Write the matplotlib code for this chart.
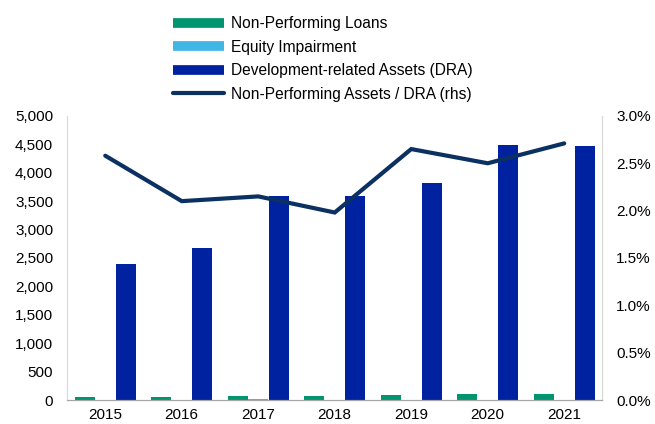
import numpy as np
import matplotlib
matplotlib.use("Agg")
import matplotlib.pyplot as plt
from matplotlib.lines import Line2D
from matplotlib.ticker import FuncFormatter

plt.rcParams['font.family'] = ['Liberation Sans', 'DejaVu Sans']

# Daten
jahre = ['2015', '2016', '2017', '2018', '2019', '2020', '2021']
npl = [60, 50, 70, 70, 95, 105, 105]            # Non-Performing Loans
equity = [0, 0, 10, 0, 0, 0, 0]                 # Equity Impairment
dra = [2390, 2680, 3590, 3590, 3820, 4490, 4470] # Development-related Assets
npa_quote = [2.58, 2.10, 2.15, 1.98, 2.65, 2.50, 2.71]  # NPA / DRA in %

# Farben
farbe_npl = '#00956f'
farbe_equity = '#41b6e6'
farbe_dra = '#0022a0'
farbe_linie = '#0a3161'

fig = plt.figure(figsize=(6.55, 4.24), dpi=100)
ax = fig.add_axes([0.1023, 0.0566, 0.8175, 0.67])
ax2 = ax.twinx()

x = np.arange(len(jahre))
breite = 0.26
abstand = 0.27

ax.bar(x - abstand, npl, breite, color=farbe_npl, zorder=2)
ax.bar(x, equity, breite, color=farbe_equity, zorder=2)
ax.bar(x + abstand, dra, breite, color=farbe_dra, zorder=2)

ax2.plot(x, npa_quote, color=farbe_linie, lw=3, solid_capstyle='round', solid_joinstyle='miter')

ax.set_xlim(-0.5, len(jahre) - 0.5)
ax.set_ylim(0, 5000)
ax.set_yticks(np.arange(0, 5001, 500))
ax.yaxis.set_major_formatter(FuncFormatter(lambda v, p: f'{int(v):,}'))
ax2.set_ylim(0, 3.0)
ax2.set_yticks(np.arange(0, 3.01, 0.5))
ax2.yaxis.set_major_formatter(FuncFormatter(lambda v, p: f'{v:.1f}%'))
ax.set_xticks(x)
ax.set_xticklabels(jahre)

# Achsen formatieren
for a in (ax, ax2):
    a.spines['top'].set_visible(False)
    a.spines['left'].set_color('#d9d9d9')
    a.spines['right'].set_color('#d9d9d9')
    a.spines['bottom'].set_color('#a6a6a6')
    a.tick_params(length=0, labelsize=11, colors='#000000')
ax.tick_params(axis='y', pad=10)
ax2.tick_params(axis='y', pad=10)
ax.tick_params(axis='x', pad=6)

# Legende
handles = [
    Line2D([0], [0], color=farbe_npl, lw=7, solid_capstyle='butt'),
    Line2D([0], [0], color=farbe_equity, lw=7, solid_capstyle='butt'),
    Line2D([0], [0], color=farbe_dra, lw=7, solid_capstyle='butt'),
    Line2D([0], [0], color=farbe_linie, lw=3, solid_capstyle='round'),
]
labels = ['Non-Performing Loans', 'Equity Impairment',
          'Development-related Assets (DRA)', 'Non-Performing Assets / DRA (rhs)']
fig.legend(handles, labels, loc='upper left', bbox_to_anchor=(173 / 655, 1 - 16 / 424),
           frameon=False, fontsize=11.2, borderpad=0, borderaxespad=0,
           handlelength=3.3, handletextpad=0.45, labelspacing=0.55)

fig.savefig('out.png', dpi=100)
